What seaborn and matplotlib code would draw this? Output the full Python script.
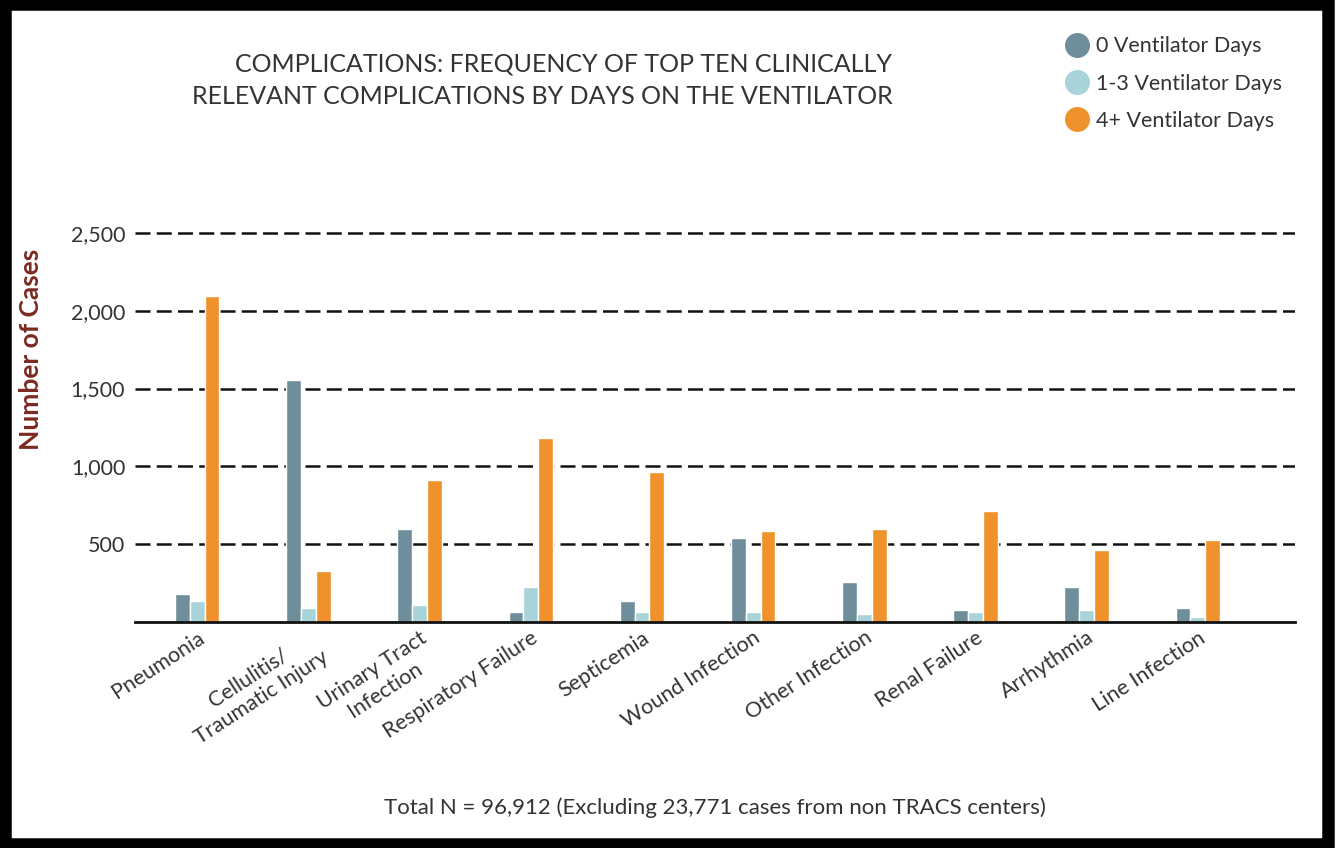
import numpy as np
import pandas as pd
import seaborn as sns
import matplotlib.pyplot as plt
from matplotlib.patches import Rectangle
from matplotlib.lines import Line2D
from matplotlib.ticker import FuncFormatter

categories = ['Pneumonia', 'Cellulitis/\nTraumatic Injury', 'Urinary Tract\nInfection',
              'Respiratory Failure', 'Septicemia', 'Wound Infection', 'Other Infection',
              'Renal Failure', 'Arrhythmia', 'Line Infection']
series_names = ['0 Ventilator Days', '1-3 Ventilator Days', '4+ Ventilator Days']
vent_0 = [180, 1555, 600, 64, 137, 537, 255, 77, 225, 91]
vent_1_3 = [133, 90, 107, 227, 63, 63, 49, 63, 77, 34]
vent_4_plus = [2093, 330, 913, 1180, 966, 582, 596, 715, 464, 524]
colors = ['#6f8e9b', '#a8d3d8', '#f0922b']

df = pd.DataFrame({
    'Complication': categories * 3,
    'Series': np.repeat(series_names, len(categories)),
    'Cases': vent_0 + vent_1_3 + vent_4_plus,
})

sns.set_style('white')
plt.rcParams['font.family'] = ['Lato', 'DejaVu Sans']
text_color = '#333333'

fig = plt.figure(figsize=(13.36, 8.48), dpi=100)
ax = fig.add_axes([0.101, 0.2665, 0.868, 0.468])

sns.barplot(data=df, x='Complication', y='Cases', hue='Series', order=categories,
            hue_order=series_names, palette=colors, width=0.4, saturation=1,
            ax=ax, legend=False)

ax.set_ylim(0, 2550)
ax.set_xlim(-0.56, 9.87)
ax.set_yticks([500, 1000, 1500, 2000, 2500])
ax.yaxis.set_major_formatter(FuncFormatter(lambda v, p: f'{int(v):,}'))
ax.yaxis.grid(True, color='#111111', linestyle=(0, (6, 2.5)), linewidth=1.8)
ax.set_axisbelow(True)
for side in ['top', 'right', 'left']:
    ax.spines[side].set_visible(False)
ax.spines['bottom'].set_color('#111111')
ax.spines['bottom'].set_linewidth(2)
ax.spines['bottom'].set_zorder(5)
ax.tick_params(axis='y', length=0, pad=7, labelsize=15.5, labelcolor=text_color)
ax.tick_params(axis='x', length=0, pad=4, labelsize=15.5, labelcolor=text_color)
for lab in ax.get_xticklabels():
    lab.set_rotation(33)
    lab.set_ha('right')
    lab.set_va('top')
    lab.set_rotation_mode('anchor')
    lab.set_multialignment('center')
ax.set_xlabel('')
ax.set_ylabel('Number of Cases', fontsize=19, fontweight='bold', color='#7b2a22')
ax.yaxis.set_label_coords(-0.079, 0.687)

fig.text(0.668, 0.938, 'COMPLICATIONS: FREQUENCY OF TOP TEN CLINICALLY\n'
         'RELEVANT COMPLICATIONS BY DAYS ON THE VENTILATOR',
         ha='right', va='top', fontsize=18, color=text_color, multialignment='right',
         linespacing=1.5)

handles = [Line2D([0], [0], marker='o', linestyle='', markersize=17, markerfacecolor=c,
                  markeredgecolor=c) for c in colors]
fig.legend(handles, series_names, loc='upper left', bbox_to_anchor=(0.782, 0.98),
           frameon=False, fontsize=15.5, handletextpad=0.3, labelspacing=0.8,
           handlelength=1.2, labelcolor=text_color)

fig.text(0.535, 0.047, 'Total N = 96,912 (Excluding 23,771 cases from non TRACS centers)',
         ha='center', va='center', fontsize=16, color=text_color)

fig.patches.append(Rectangle((0.004, 0.005), 0.99, 0.99, transform=fig.transFigure,
                             fill=False, edgecolor='black', linewidth=9))

fig.savefig('out.png', dpi=100)
